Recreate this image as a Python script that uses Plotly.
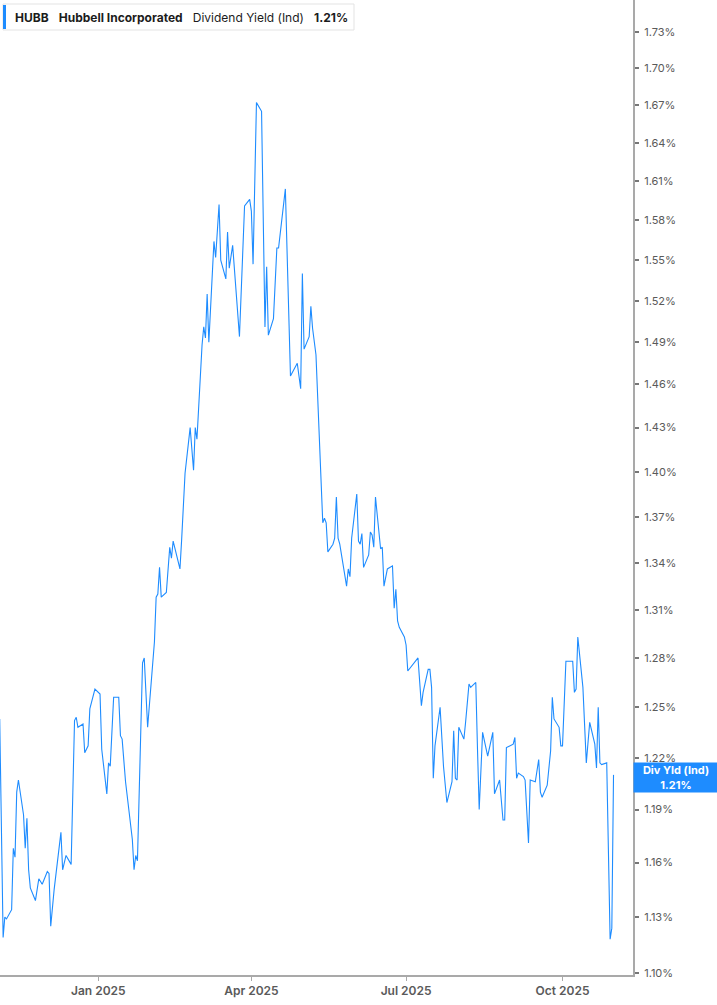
import math
import plotly.graph_objects as go

# ---------------- data ----------------
dates = [
    "2024-11-04", "2024-11-06", "2024-11-07", "2024-11-08", "2024-11-11", "2024-11-12", "2024-11-13", "2024-11-14", "2024-11-15", "2024-11-18",
    "2024-11-19", "2024-11-20", "2024-11-21", "2024-11-22", "2024-11-25", "2024-11-27", "2024-11-29", "2024-12-02", "2024-12-03", "2024-12-04",
    "2024-12-06", "2024-12-10", "2024-12-11", "2024-12-13", "2024-12-16", "2024-12-18", "2024-12-19", "2024-12-20", "2024-12-23", "2024-12-24",
    "2024-12-26", "2024-12-27", "2024-12-30", "2025-01-02", "2025-01-03", "2025-01-06", "2025-01-07", "2025-01-08", "2025-01-10", "2025-01-13",
    "2025-01-14", "2025-01-15", "2025-01-17", "2025-01-21", "2025-01-22", "2025-01-23", "2025-01-24", "2025-01-27", "2025-01-28", "2025-01-30",
    "2025-02-03", "2025-02-04", "2025-02-05", "2025-02-06", "2025-02-07", "2025-02-10", "2025-02-12", "2025-02-13", "2025-02-14", "2025-02-18",
    "2025-02-19", "2025-02-21", "2025-02-24", "2025-02-26", "2025-02-27", "2025-02-28", "2025-03-03", "2025-03-04", "2025-03-05", "2025-03-06",
    "2025-03-07", "2025-03-10", "2025-03-11", "2025-03-13", "2025-03-14", "2025-03-17", "2025-03-18", "2025-03-19", "2025-03-21", "2025-03-25",
    "2025-03-28", "2025-03-31", "2025-04-01", "2025-04-02", "2025-04-04", "2025-04-07", "2025-04-09", "2025-04-10", "2025-04-11", "2025-04-14",
    "2025-04-16", "2025-04-17", "2025-04-21", "2025-04-22", "2025-04-24", "2025-04-28", "2025-04-30", "2025-05-01", "2025-05-02", "2025-05-05",
    "2025-05-06", "2025-05-07", "2025-05-09", "2025-05-13", "2025-05-14", "2025-05-15", "2025-05-16", "2025-05-19", "2025-05-20", "2025-05-21",
    "2025-05-22", "2025-05-23", "2025-05-27", "2025-05-28", "2025-05-29", "2025-05-30", "2025-06-02", "2025-06-03", "2025-06-04", "2025-06-05",
    "2025-06-06", "2025-06-09", "2025-06-10", "2025-06-11", "2025-06-12", "2025-06-13", "2025-06-16", "2025-06-17", "2025-06-18", "2025-06-20",
    "2025-06-23", "2025-06-24", "2025-06-25", "2025-06-26", "2025-06-27", "2025-06-30", "2025-07-01", "2025-07-02", "2025-07-08", "2025-07-10",
    "2025-07-11", "2025-07-14", "2025-07-15", "2025-07-16", "2025-07-17", "2025-07-18", "2025-07-21", "2025-07-23", "2025-07-25", "2025-07-28",
    "2025-07-29", "2025-07-30", "2025-07-31", "2025-08-01", "2025-08-04", "2025-08-05", "2025-08-07", "2025-08-08", "2025-08-11", "2025-08-12",
    "2025-08-13", "2025-08-15", "2025-08-18", "2025-08-21", "2025-08-22", "2025-08-25", "2025-08-27", "2025-08-28", "2025-08-29", "2025-09-02",
    "2025-09-03", "2025-09-04", "2025-09-05", "2025-09-08", "2025-09-09", "2025-09-11", "2025-09-12", "2025-09-15", "2025-09-17", "2025-09-18",
    "2025-09-19", "2025-09-22", "2025-09-24", "2025-09-25", "2025-09-26", "2025-09-29", "2025-09-30", "2025-10-01", "2025-10-03", "2025-10-07",
    "2025-10-08", "2025-10-09", "2025-10-10", "2025-10-13", "2025-10-15", "2025-10-17", "2025-10-20", "2025-10-21", "2025-10-22", "2025-10-23",
    "2025-10-24", "2025-10-27", "2025-10-28", "2025-10-29", "2025-10-30", "2025-10-31",
]

div_yield = [
    1.243, 1.119, 1.130, 1.129, 1.134, 1.168, 1.163, 1.200, 1.207, 1.187,
    1.168, 1.185, 1.156, 1.146, 1.139, 1.151, 1.148, 1.155, 1.154, 1.125,
    1.145, 1.177, 1.156, 1.164, 1.159, 1.242, 1.244, 1.238, 1.240, 1.223,
    1.227, 1.249, 1.261, 1.258, 1.225, 1.199, 1.217, 1.215, 1.256, 1.256,
    1.233, 1.231, 1.206, 1.173, 1.156, 1.164, 1.161, 1.277, 1.280, 1.238,
    1.290, 1.318, 1.320, 1.337, 1.318, 1.321, 1.350, 1.343, 1.354, 1.336,
    1.355, 1.399, 1.430, 1.401, 1.430, 1.422, 1.488, 1.501, 1.493, 1.525,
    1.490, 1.564, 1.552, 1.592, 1.550, 1.536, 1.571, 1.544, 1.561, 1.494,
    1.591, 1.596, 1.587, 1.547, 1.672, 1.665, 1.501, 1.545, 1.495, 1.507,
    1.559, 1.559, 1.604, 1.553, 1.466, 1.475, 1.457, 1.540, 1.485, 1.494,
    1.516, 1.500, 1.481, 1.366, 1.369, 1.366, 1.347, 1.352, 1.356, 1.383,
    1.356, 1.352, 1.325, 1.336, 1.331, 1.356, 1.385, 1.354, 1.352, 1.359,
    1.337, 1.345, 1.360, 1.358, 1.350, 1.383, 1.349, 1.350, 1.325, 1.336,
    1.338, 1.311, 1.323, 1.303, 1.299, 1.293, 1.288, 1.272, 1.280, 1.251,
    1.259, 1.273, 1.273, 1.262, 1.208, 1.227, 1.250, 1.215, 1.194, 1.206,
    1.236, 1.208, 1.207, 1.238, 1.231, 1.241, 1.264, 1.262, 1.265, 1.225,
    1.190, 1.235, 1.221, 1.235, 1.199, 1.207, 1.184, 1.184, 1.226, 1.228,
    1.232, 1.208, 1.211, 1.209, 1.207, 1.171, 1.207, 1.206, 1.219, 1.200,
    1.197, 1.204, 1.224, 1.256, 1.243, 1.238, 1.227, 1.227, 1.278, 1.278,
    1.259, 1.261, 1.293, 1.262, 1.217, 1.241, 1.228, 1.214, 1.250, 1.217,
    1.216, 1.217, 1.160, 1.118, 1.124, 1.210,
]

y_tick_values = [1.10, 1.13, 1.16, 1.19, 1.22, 1.25, 1.28, 1.31, 1.34, 1.37, 1.40,
                 1.43, 1.46, 1.49, 1.52, 1.55, 1.58, 1.61, 1.64, 1.67, 1.70, 1.73]
x_tick_dates = ["2025-01-01", "2025-04-01", "2025-07-01", "2025-10-01"]
x_tick_labels = ["Jan 2025", "Apr 2025", "Jul 2025", "Oct 2025"]

ticker = "HUBB"
company = "Hubbell Incorporated"
metric = "Dividend Yield (Ind)"
short_metric = "Div Yld (Ind)"
last_value = 1.21

# ---------------- style ----------------
BLUE = "#1E8CFF"
AXIS_GRAY = "#a9a9a9"
LABEL_GRAY = "#5a5a5a"
FONT = "Inter, Roboto, Arial, sans-serif"

W, H = 717, 1005
M_L, M_R, M_T, M_B = 0, 84, 0, 30
PW, PH = W - M_L - M_R, H - M_T - M_B


def fx(p):
    return p / PW


def fy(p):
    return 1 - p / PH


fig = go.Figure()
fig.add_trace(go.Scatter(
    x=dates, y=div_yield, mode="lines",
    line=dict(color=BLUE, width=1.1),
    hoverinfo="skip", showlegend=False,
))

fig.update_layout(
    width=W, height=H,
    margin=dict(l=M_L, r=M_R, t=M_T, b=M_B, pad=0),
    paper_bgcolor="white", plot_bgcolor="white",
    font=dict(family=FONT, color=LABEL_GRAY),
    xaxis=dict(
        type="date",
        range=["2024-11-04 04:00", "2025-11-11 11:00"],
        tickvals=x_tick_dates, ticktext=x_tick_labels,
        tickfont=dict(size=12, color=LABEL_GRAY, weight=600),
        ticks="outside", ticklen=4, tickwidth=1.2, tickcolor=AXIS_GRAY,
        showline=True, linecolor=AXIS_GRAY, linewidth=2,
        showgrid=False, zeroline=False, fixedrange=True,
    ),
    yaxis=dict(
        type="log", side="right",
        range=[math.log10(1.09894), math.log10(1.7566)],
        tickvals=y_tick_values,
        ticktext=[f"{v:.2f}%" for v in y_tick_values],
        tickfont=dict(size=11, color=LABEL_GRAY),
        ticks="outside", ticklen=4, tickwidth=1.5, tickcolor="#777777",
        ticklabelstandoff=3,
        showline=True, linecolor=AXIS_GRAY, linewidth=2,
        showgrid=False, zeroline=False, fixedrange=True,
    ),
)

# header box
fig.add_shape(type="rect", xref="paper", yref="paper",
              x0=fx(3), x1=fx(354), y0=fy(30), y1=fy(4),
              line=dict(color="#e3e3e3", width=1), fillcolor="white", layer="above")
fig.add_shape(type="rect", xref="paper", yref="paper",
              x0=fx(3), x1=fx(6), y0=fy(29), y1=fy(5),
              line=dict(width=0), fillcolor=BLUE, layer="above")
sp = "\u00a0\u00a0\u00a0"
fig.add_annotation(
    xref="paper", yref="paper", x=fx(13), y=fy(17),
    xanchor="left", yanchor="middle", showarrow=False,
    text=f"<b>{ticker}</b>{sp}<b>{company}</b>{sp}{metric}{sp}<b>{last_value:.2f}%</b>",
    font=dict(family=FONT, size=12, color="#1c1c1c"),
)

# last value label on the right axis
fig.add_annotation(
    xref="paper", yref="y", x=1, y=math.log10(last_value),
    xanchor="left", yanchor="middle", yshift=-3, showarrow=False,
    text=f"<b>{short_metric}</b><br><b>{last_value:.2f}%</b>",
    font=dict(family=FONT, size=11, color="white"),
    bgcolor=BLUE, width=82, height=27, borderpad=1, align="center",
)

fig.write_html(
    "out.html",
    config={"displayModeBar": False},
    post_script="document.body.style.margin='0';document.body.style.overflow='hidden';",
)
